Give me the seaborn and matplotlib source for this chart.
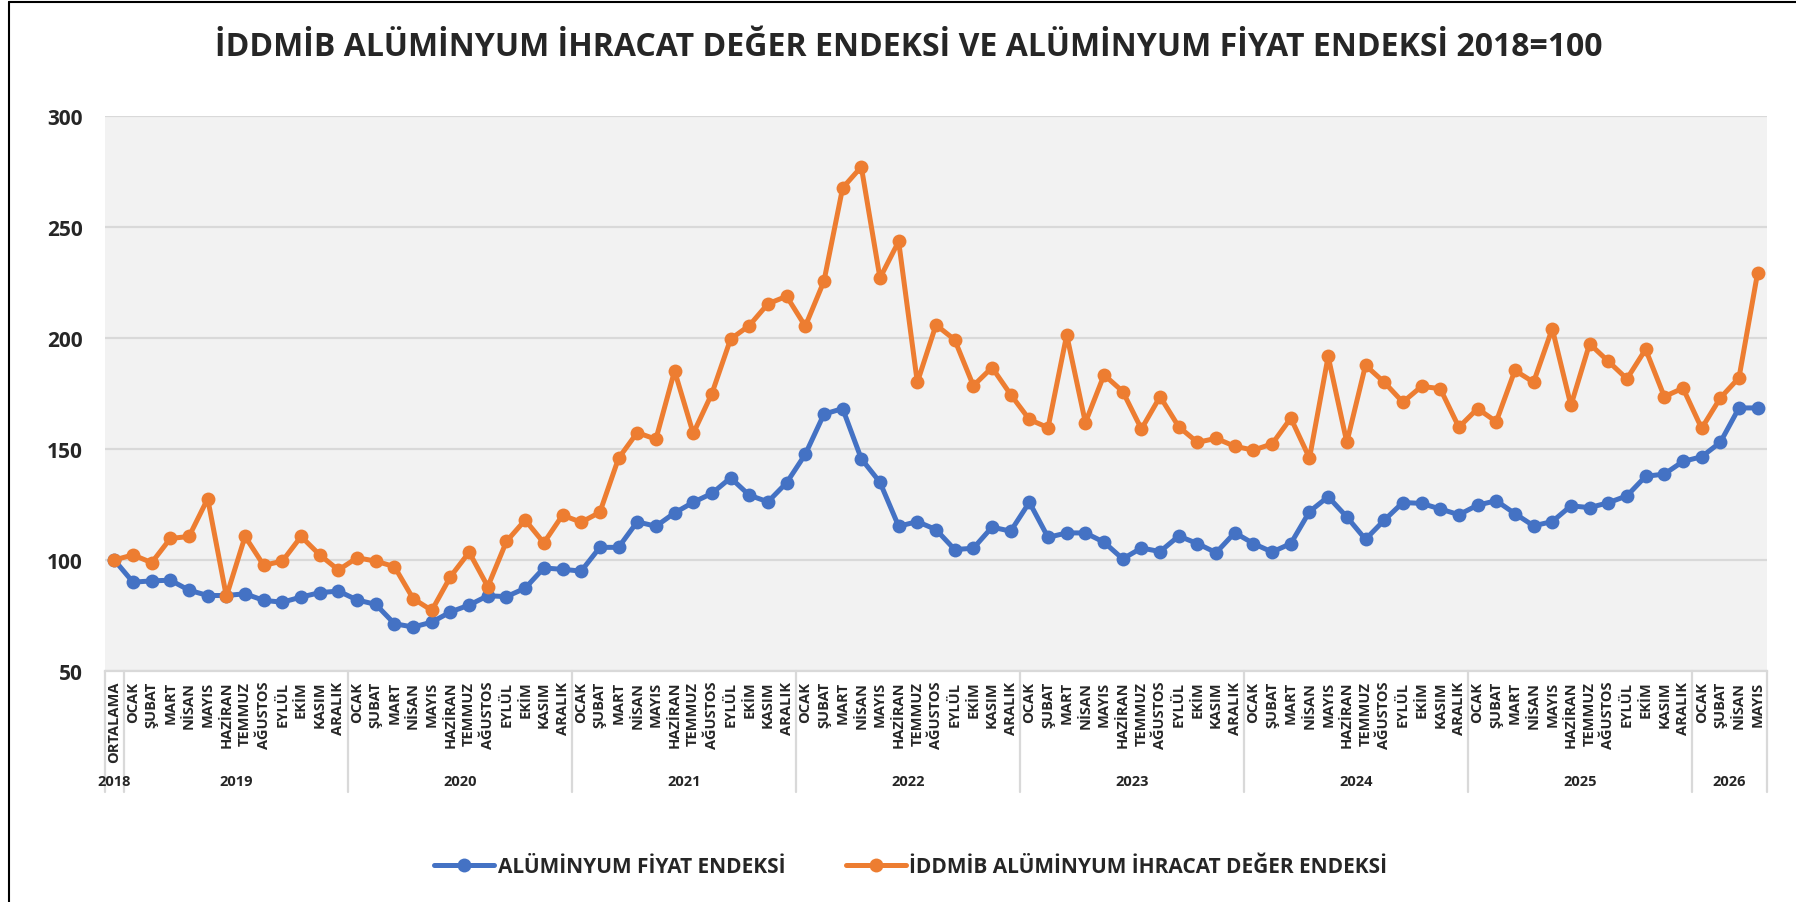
import matplotlib
matplotlib.use('Agg')
import numpy as np
import pandas as pd
import matplotlib.pyplot as plt
import seaborn as sns
from matplotlib.lines import Line2D
from matplotlib.transforms import blended_transform_factory

sns.set_style('white')
plt.rcParams['font.family'] = ['Open Sans', 'DejaVu Sans']
plt.rcParams['font.weight'] = 'bold'

# --- data ---
months = ['OCAK', 'ŞUBAT', 'MART', 'NİSAN', 'MAYIS', 'HAZİRAN',
          'TEMMUZ', 'AĞUSTOS', 'EYLÜL', 'EKİM', 'KASIM', 'ARALIK']
months_2026 = ['OCAK', 'ŞUBAT', 'NİSAN', 'MAYIS']
years = ['2018', '2019', '2020', '2021', '2022', '2023', '2024', '2025', '2026']
year_sizes = [1, 12, 12, 12, 12, 12, 12, 12, 4]

fiyat_2018 = [100]
fiyat_2019 = [90.0, 90.6, 90.9, 86.4, 84.0, 84.0, 84.8, 81.8, 81.0, 83.3, 85.3, 86.0]
fiyat_2020 = [82.0, 80.0, 71.3, 69.8, 72.0, 76.6, 79.7, 83.9, 83.5, 87.3, 96.4, 95.8]
fiyat_2021 = [95.0, 105.7, 105.7, 117.2, 115.2, 121.2, 126.0, 130.0, 137.0, 129.2, 126.2, 134.8]
fiyat_2022 = [147.6, 165.7, 168.2, 145.6, 135.0, 115.2, 117.3, 113.7, 104.7, 105.3, 114.8, 113.0]
fiyat_2023 = [126.0, 110.2, 112.2, 112.2, 108.0, 100.5, 105.4, 103.8, 110.8, 107.4, 103.3, 112.3]
fiyat_2024 = [107.4, 103.6, 107.4, 121.8, 128.5, 119.4, 109.3, 117.9, 125.9, 125.5, 123.0, 120.4]
fiyat_2025 = [124.7, 126.7, 120.9, 115.4, 117.3, 124.4, 123.6, 125.8, 128.9, 137.7, 138.7, 144.4]
fiyat_2026 = [146.5, 153.0, 168.5, 168.5]

ihracat_2018 = [100]
ihracat_2019 = [102.3, 98.8, 109.7, 110.6, 127.6, 83.6, 110.6, 97.6, 99.5, 110.6, 102.3, 95.5]
ihracat_2020 = [101.0, 99.5, 97.0, 82.6, 77.3, 92.5, 103.5, 88.0, 108.4, 118.0, 107.7, 120.2]
ihracat_2021 = [117.0, 121.5, 145.8, 157.4, 154.4, 185.2, 157.0, 175.0, 199.5, 205.6, 215.4, 218.8]
ihracat_2022 = [205.3, 225.6, 267.6, 277.1, 227.0, 243.5, 180.0, 205.9, 199.2, 178.5, 186.7, 174.5]
ihracat_2023 = [163.3, 159.6, 201.4, 161.9, 183.4, 175.9, 159.0, 173.6, 160.0, 153.0, 154.8, 151.2]
ihracat_2024 = [149.5, 152.3, 163.9, 145.9, 191.7, 153.0, 187.7, 180.1, 171.1, 178.2, 177.2, 159.8]
ihracat_2025 = [168.2, 162.3, 185.4, 180.1, 204.2, 169.6, 197.4, 189.5, 181.6, 194.9, 173.6, 177.4]
ihracat_2026 = [159.3, 173.0, 182.1, 229.5]

fiyat = (fiyat_2018 + fiyat_2019 + fiyat_2020 + fiyat_2021 + fiyat_2022
         + fiyat_2023 + fiyat_2024 + fiyat_2025 + fiyat_2026)
ihracat = (ihracat_2018 + ihracat_2019 + ihracat_2020 + ihracat_2021 + ihracat_2022
           + ihracat_2023 + ihracat_2024 + ihracat_2025 + ihracat_2026)
x_labels = ['ORTALAMA'] + months * 7 + months_2026

name_fiyat = 'ALÜMİNYUM FİYAT ENDEKSİ'
name_ihracat = 'İDDMİB ALÜMİNYUM İHRACAT DEĞER ENDEKSİ'
title = 'İDDMİB ALÜMİNYUM İHRACAT DEĞER ENDEKSİ VE ALÜMİNYUM FİYAT ENDEKSİ 2018=100'

blue = '#4472C4'
orange = '#ED7D31'
grid_c = '#D9D9D9'

n = len(x_labels)
df = pd.DataFrame({
    'idx': list(range(n)) * 2,
    'value': fiyat + ihracat,
    'seri': [name_fiyat] * n + [name_ihracat] * n,
})

W, H = 1796, 903
fig = plt.figure(figsize=(W / 100, H / 100), dpi=100)
fig.patch.set_facecolor('white')
ax = fig.add_axes([105 / W, 1 - 672 / H, (1767 - 105) / W, (672 - 117) / H])
ax.set_facecolor('#F2F2F2')

sns.lineplot(data=df, x='idx', y='value', hue='seri', hue_order=[name_fiyat, name_ihracat],
             palette=[blue, orange], marker='o', markersize=10, markeredgewidth=0,
             linewidth=3.6, ax=ax, legend=False, zorder=3)

ax.set_xlim(-0.5, n - 0.5)
ax.set_ylim(50, 300)
ax.set_yticks(np.arange(50, 301, 50))
ax.yaxis.grid(True, color=grid_c, linewidth=1.6, zorder=0)
ax.set_axisbelow(True)
for s in ['top', 'right', 'left']:
    ax.spines[s].set_visible(False)
ax.spines['bottom'].set_color(grid_c)
ax.spines['bottom'].set_linewidth(1.6)
ax.tick_params(axis='y', length=0, pad=16, labelsize=15)
ax.set_xticks(range(n))
ax.set_xticklabels(x_labels, rotation=90, fontsize=10.5, fontweight='bold', va='top', ha='center')
ax.tick_params(axis='x', length=0, pad=7)
ax.set_xlabel('')
ax.set_ylabel('')

# year groups under the month labels
trans = blended_transform_factory(ax.transData, ax.transAxes)
bounds = np.concatenate([[0], np.cumsum(year_sizes)]) - 0.5
for b in bounds:
    ax.plot([b, b], [0, -0.218], color=grid_c, linewidth=1.6, transform=trans, clip_on=False)
for i, yr in enumerate(years):
    c = (bounds[i] + bounds[i + 1]) / 2
    ax.text(c, -0.198, yr, transform=trans, ha='center', va='center', fontsize=10.5,
            fontweight='bold')

fig.text(0.506, 1 - 47 / H, title, ha='center', va='center', fontsize=23, fontweight='bold')

handles = [Line2D([0], [0], color=blue, lw=3.6, marker='o', markersize=10, markeredgewidth=0),
           Line2D([0], [0], color=orange, lw=3.6, marker='o', markersize=10, markeredgewidth=0)]
fig.legend(handles, [name_fiyat, name_ihracat], loc='center', bbox_to_anchor=(0.507, 1 - 868 / H),
           ncol=2, frameon=False, prop={'size': 15, 'weight': 'bold'},
           handlelength=2.9, handletextpad=0.15, columnspacing=2.9)

# outer frame of the chart
fig.add_artist(Line2D([9 / W, 9 / W], [0, 1 - 3 / H], color='black', lw=1.5))
fig.add_artist(Line2D([9 / W, 1], [1 - 3 / H, 1 - 3 / H], color='black', lw=1.5))

fig.savefig('out.png', dpi=100)
